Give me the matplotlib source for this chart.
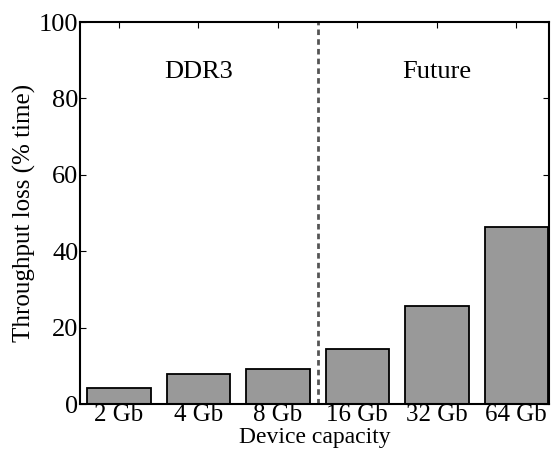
import matplotlib
matplotlib.use('Agg')
import matplotlib.pyplot as plt
import numpy as np

capacities = ['2 Gb', '4 Gb', '8 Gb', '16 Gb', '32 Gb', '64 Gb']
loss = [4.1, 7.8, 9.1, 14.3, 25.8, 46.3]
groups = ['DDR3', 'Future']
group_centers = [1, 4]

plt.rcParams['font.family'] = ['Liberation Serif', 'DejaVu Serif']

fig = plt.figure(figsize=(5.55, 4.5), dpi=100)
ax = fig.add_axes([0.144, 0.102, 0.845, 0.849])

x = np.arange(len(capacities))
ax.bar(x, loss, width=0.8, color='#999999', edgecolor='black', linewidth=1.3, zorder=2)
ax.axvline(2.5, color='#555555', linestyle=(0, (2, 1.5)), linewidth=2, zorder=1)

for name, cx in zip(groups, group_centers):
    ax.text(cx, 87, name, ha='center', va='center', fontsize=19)

ax.set_xlim(-0.49, 5.41)
ax.set_ylim(0, 100)
ax.set_xticks(x)
ax.set_xticklabels(capacities)
ax.set_yticks([0, 20, 40, 60, 80, 100])
ax.tick_params(direction='in', top=True, right=True, length=4, labelsize=19, pad=1)
ax.tick_params(axis='x', labelsize=18, pad=0)
ax.set_ylabel('Throughput loss (% time)', fontsize=18, labelpad=2)
ax.set_xlabel('Device capacity', fontsize=17, labelpad=1)
for s in ax.spines.values():
    s.set_linewidth(1.5)

fig.savefig('out.png', dpi=100)
